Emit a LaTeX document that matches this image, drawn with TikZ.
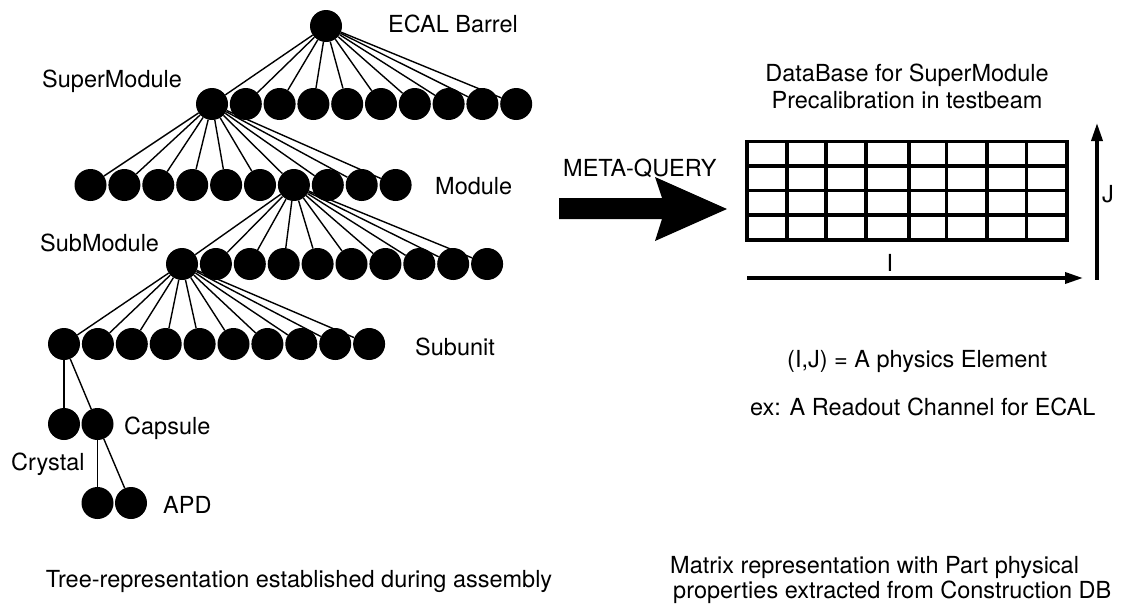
\documentclass[tikz,border=0pt]{standalone}
\usepackage{fontspec}
\setmainfont{TeX Gyre Heros}
\usetikzlibrary{arrows.meta}
\newcommand{\lblfont}{\fontsize{23.5}{27}\selectfont}
\begin{document}
\begin{tikzpicture}[x=1pt,y=-1pt,
  dot/.style={circle,fill=black,inner sep=0pt,minimum size=32pt},
  conn/.style={line width=1.4pt},
  lbl/.style={inner sep=0pt,anchor=base west,font=\lblfont},
  clbl/.style={inner sep=0pt,anchor=base,font=\lblfont},
  gridline/.style={line width=3.5pt},
  axisarrow/.style={line width=3.5pt,-{Triangle[length=18pt,width=11pt]}}]
\useasboundingbox (0,0) rectangle (1122,611);
\fill[white] (0,0) rectangle (1122,611);

% tree nodes
\node[dot] (root) at (326,26) {};
\foreach \i in {0,...,9} {
  \node[dot] (s\i) at ({212+33.8*\i},104) {};
  \node[dot] (m\i) at ({90.5+33.9*\i},185) {};
  \node[dot] (u\i) at ({182+33.9*\i},264) {};
  \node[dot] (t\i) at ({64+33.9*\i},344) {};
}
\node[dot] (c0) at (64,424) {};
\node[dot] (c1) at (97.5,424) {};
\node[dot] (a0) at (97.5,503) {};
\node[dot] (a1) at (131,503) {};

% connectors
\foreach \i in {0,...,9} {
  \draw[conn] (root) -- (s\i);
  \draw[conn] (s0) -- (m\i);
  \draw[conn] (m6) -- (u\i);
  \draw[conn] (u0) -- (t\i);
}
\draw[conn] (t0) -- (c0);
\draw[conn] (t0) -- (c1);
\draw[conn] (c1) -- (a0);
\draw[conn] (c1) -- (a1);

% tree labels
\node[lbl] (lecal) at (388,32) {ECAL Barrel};
\node[lbl] (lsm) at (42,87) {SuperModule};
\node[lbl] (lmod) at (435,194) {Module};
\node[lbl] (lsub) at (40,251) {SubModule};
\node[lbl] (lsu) at (415,355) {Subunit};
\node[lbl] (lcap) at (124,434) {Capsule};
\node[lbl] (lcry) at (11,470) {Crystal};
\node[lbl] (lapd) at (163,513) {APD};

% big arrow
\fill (559,198) -- (662,198) -- (655,177) -- (727,209) -- (655,241) -- (662,219) -- (559,219) -- cycle;
\node[lbl] (lmq) at (563,176) {META-QUERY};

% matrix
\draw[gridline] (747,141.5) rectangle (1067,240);
\foreach \x in {787,826,866,909,946.5,987,1026.5} \draw[gridline] (\x,141.5) -- (\x,240);
\foreach \y in {166,190.5,215} \draw[gridline] (747,\y) -- (1067,\y);

% axes
\coordinate (i0) at (747,278);
\coordinate (i1) at (1083,278);
\coordinate (j0) at (1097,279.5);
\coordinate (j1) at (1097,123);
\draw[axisarrow] (i0) -- (i1);
\draw[axisarrow] (j0) -- (j1);
\node[clbl] (li) at (890,271) {I};
\node[lbl] (lj) at (1102,202) {J};

% right texts
\node[clbl] (db1) at (907,81) {DataBase for SuperModule};
\node[clbl] (db2) at (907,108) {Precalibration in testbeam};
\node[lbl] (ij) at (787,367) {(I,J) = A physics Element};
\node[lbl] (ex) at (750,415) {ex: A Readout Channel for ECAL};

% captions
\node[clbl] (capl) at (299,587) {Tree-representation established during assembly};
\node[lbl] (capr1) at (670,573) {Matrix representation with Part physical};
\node[lbl] (capr2) at (673,598) {properties extracted from Construction DB};
\end{tikzpicture}
\end{document}
